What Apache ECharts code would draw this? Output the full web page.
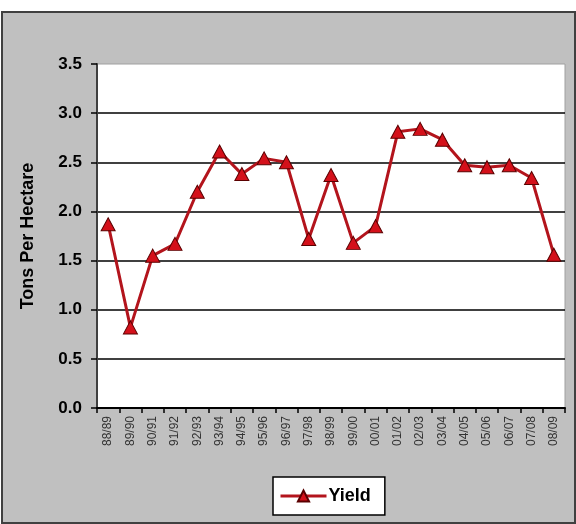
<!DOCTYPE html>
<html>
<head>
<meta charset="utf-8">
<script src="https://cdn.jsdelivr.net/npm/echarts@6/dist/echarts.min.js"></script>
<style>
    html, body {margin:0;padding:0;background:#fff}
    #chart {width:576px;height:524px}
</style>
</head>
<body>
<div id="chart"></div>
<script>
    // crop years along the bottom
    var seasons = ['88/89', '89/90', '90/91', '91/92', '92/93', '93/94', '94/95', '95/96', '96/97', '97/98', '98/99',
                   '99/00', '00/01', '01/02', '02/03', '03/04', '04/05', '05/06', '06/07', '07/08', '08/09'];
    // yield, tons per hectare
    var yieldValues = [1.87, 0.82, 1.55, 1.67, 2.2, 2.61, 2.38, 2.54, 2.5, 1.72, 2.37,
                       1.68, 1.85, 2.81, 2.84, 2.73, 2.47, 2.45, 2.47, 2.34, 1.56];
    var yTicks = [0, 0.5, 1.0, 1.5, 2.0, 2.5, 3.0, 3.5];

    var chart = echarts.init(document.getElementById('chart'), null, {renderer: 'canvas'});

    var option = {
        animation: false,
        backgroundColor: '#ffffff',
        textStyle: {fontFamily: 'Liberation Sans, Arial, sans-serif'},
        graphic: [
            {
                type: 'rect',
                z: -10,
                shape: {x: 2, y: 12, width: 573, height: 511},
                style: {fill: '#c0c0c0', stroke: '#404040', lineWidth: 2}
            }
        ],
        grid: {
            left: 97,
            top: 64,
            right: 11,
            bottom: 116,
            show: true,
            backgroundColor: '#ffffff',
            borderColor: '#a0a0a0',
            borderWidth: 1
        },
        legend: {
            data: ['Yield'],
            left: 273,
            top: 477,
            itemWidth: 46,
            itemHeight: 14,
            itemGap: 4,
            padding: [10, 14, 10, 6],
            backgroundColor: '#ffffff',
            borderColor: '#000000',
            borderWidth: 1.5,
            lineStyle: {width: 3},
            textStyle: {fontSize: 18, fontWeight: 'bold', color: '#000', padding: [0, 0, 0, -3]}
        },
        xAxis: {
            type: 'category',
            data: seasons,
            boundaryGap: true,
            axisLine: {lineStyle: {color: '#000', width: 2}},
            axisTick: {show: true, interval: 0, length: 5, lineStyle: {color: '#000', width: 1.5}},
            axisLabel: {interval: 0, rotate: 90, fontSize: 12, color: '#333', margin: 8}
        },
        yAxis: {
            type: 'value',
            min: 0,
            max: 3.5,
            interval: 0.5,
            name: 'Tons Per Hectare',
            nameLocation: 'middle',
            nameGap: 60,
            nameTextStyle: {fontSize: 18, fontWeight: 'bold', color: '#000'},
            axisLine: {show: true, lineStyle: {color: '#404040', width: 2}},
            axisTick: {show: true, length: 6, lineStyle: {color: '#000', width: 1.5}},
            axisLabel: {
                fontSize: 17,
                fontWeight: 'bold',
                color: '#000',
                margin: 15,
                formatter: function (v) { return v.toFixed(1); }
            },
            splitLine: {
                show: true,
                lineStyle: {
                    color: yTicks.map(function (t) { return (t === 0 || t === 3.5) ? 'rgba(0,0,0,0)' : '#000'; }),
                    width: 1.5
                }
            }
        },
        series: [
            {
                name: 'Yield',
                type: 'line',
                data: yieldValues,
                symbol: 'triangle',
                symbolSize: [14, 13],
                lineStyle: {color: '#b3141c', width: 3},
                itemStyle: {color: '#d4101a', borderColor: '#5a0000', borderWidth: 1},
                z: 3
            }
        ]
    };
    chart.setOption(option);
</script>
</body>
</html>
